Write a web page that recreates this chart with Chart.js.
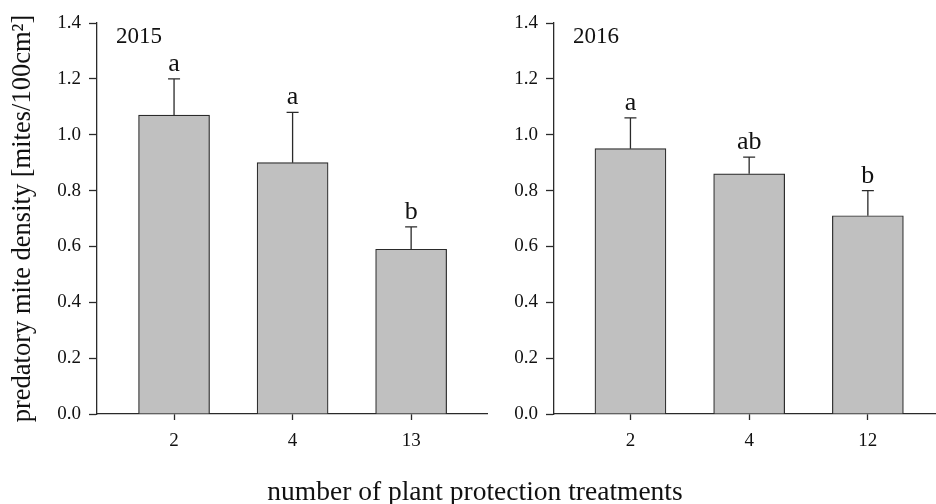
<!DOCTYPE html>
<html>
<head>
<meta charset="utf-8">
<script src="https://cdn.jsdelivr.net/npm/chart.js@4"></script>
<style>
  html, body { margin: 0; padding: 0; background: #fff; }
  #wrap { position: relative; width: 936px; height: 504px; overflow: hidden; }
  canvas { position: absolute; top: 0; }
  #c2015 { left: 0; }
  #c2016 { left: 488px; }
  #xtitle {
    position: absolute; left: 0; width: 950px; top: 476px;
    text-align: center; font-family: "Liberation Serif", serif; font-size: 27.5px;
    color: #111; line-height: 30px;
  }
</style>
</head>
<body>
<div id="wrap">
  <canvas id="c2015" width="488" height="504"></canvas>
  <canvas id="c2016" width="448" height="504"></canvas>
  <div id="xtitle">number of plant protection treatments</div>
</div>
<script>
// Treatments per season (x categories)
const treatments2015 = ['2', '4', '13'];
const treatments2016 = ['2', '4', '12'];
// Mean predatory mite density (mites / 100 cm²)
const density2015 = [1.07, 0.90, 0.59];
const density2016 = [0.95, 0.86, 0.71];
// Standard error (upper whisker length)
const error2015 = [0.13, 0.18, 0.08];
const error2016 = [0.11, 0.06, 0.09];
// Significance groups
const groups2015 = ['a', 'a', 'b'];
const groups2016 = ['a', 'ab', 'b'];
// Y axis ticks
const yTickValues = [0.0, 0.2, 0.4, 0.6, 0.8, 1.0, 1.2, 1.4];

const SERIF = '"Liberation Serif", "Times New Roman", serif';
const INK = '#2a2a2a';

// Whiskers, group letters and season label
const annotate = {
  id: 'annotate',
  afterDatasetsDraw(chart, args, opts) {
    const { ctx, chartArea } = chart;
    const xs = chart.scales.x, ys = chart.scales.y;
    const ds = chart.data.datasets[0];
    ctx.save();
    ctx.strokeStyle = INK;
    ctx.lineWidth = 1.3;
    ds.data.forEach((pt, i) => {
      const x = xs.getPixelForValue(pt.x);
      const yMean = ys.getPixelForValue(pt.y);
      const yTop = ys.getPixelForValue(pt.y + opts.errors[i]);
      ctx.beginPath();
      ctx.moveTo(x, yMean);
      ctx.lineTo(x, yTop);
      ctx.moveTo(x - 6, yTop);
      ctx.lineTo(x + 6, yTop);
      ctx.stroke();
      ctx.fillStyle = '#111';
      ctx.font = '26px ' + SERIF;
      ctx.textAlign = 'center';
      ctx.textBaseline = 'alphabetic';
      ctx.fillText(opts.groups[i], x, yTop - 8);
    });
    ctx.font = '23px ' + SERIF;
    ctx.textAlign = 'left';
    ctx.fillStyle = '#111';
    ctx.fillText(opts.label, chartArea.left + 19, chartArea.top + 20);
    ctx.restore();
  }
};

function makePanel(canvasId, cats, values, errors, groups, label, opts) {
  const positions = cats.map((c, i) => i + 1);
  return new Chart(document.getElementById(canvasId), {
    type: 'bar',
    data: {
      datasets: [{
        data: positions.map((p, i) => ({ x: p, y: values[i] })),
        backgroundColor: '#c0c0c0',
        borderColor: INK,
        borderWidth: 1.2,
        barThickness: 71
      }]
    },
    options: {
      responsive: false,
      animation: false,
      devicePixelRatio: 1,
      layout: { padding: { top: 23, right: opts.padRight, left: 0, bottom: 0 } },
      plugins: {
        legend: { display: false },
        tooltip: { enabled: false },
        annotate: { errors, groups, label }
      },
      scales: {
        x: {
          type: 'linear',
          offset: false,
          min: opts.xMin,
          max: opts.xMax,
          afterBuildTicks: s => { s.ticks = positions.map(v => ({ value: v })); },
          afterFit: s => { s.height = 90; },
          ticks: {
            callback: v => cats[v - 1],
            font: { family: SERIF, size: 19 },
            color: '#111',
            padding: 10,
            maxRotation: 0
          },
          grid: { offset: false, drawOnChartArea: false, tickLength: 6, tickColor: INK, tickWidth: 1.3 },
          border: { color: INK, width: 1.3 }
        },
        y: {
          min: 0,
          max: 1.4,
          afterBuildTicks: s => { s.ticks = yTickValues.map(v => ({ value: v })); },
          afterFit: s => { s.width = opts.yWidth; },
          ticks: {
            callback: v => v.toFixed(1),
            font: { family: SERIF, size: 19 },
            color: '#111',
            padding: 8
          },
          grid: { drawOnChartArea: false, tickLength: 8, tickColor: INK, tickWidth: 1.3 },
          border: { color: INK, width: 1.3 },
          title: {
            display: opts.yTitle !== '',
            text: opts.yTitle,
            font: { family: SERIF, size: 26.5 },
            color: '#111',
            padding: { top: 7, bottom: 0 }
          }
        }
      }
    },
    plugins: [annotate]
  });
}

makePanel('c2015', treatments2015, density2015, error2015, groups2015, '2015', {
  xMin: 0.35, xMax: 3.64, padRight: 1, yWidth: 97,
  yTitle: 'predatory mite density [mites/100cm²]'
});
makePanel('c2016', treatments2016, density2016, error2016, groups2016, '2016', {
  xMin: 0.356, xMax: 3.574, padRight: 0, yWidth: 66,
  yTitle: ''
});
</script>
</body>
</html>
